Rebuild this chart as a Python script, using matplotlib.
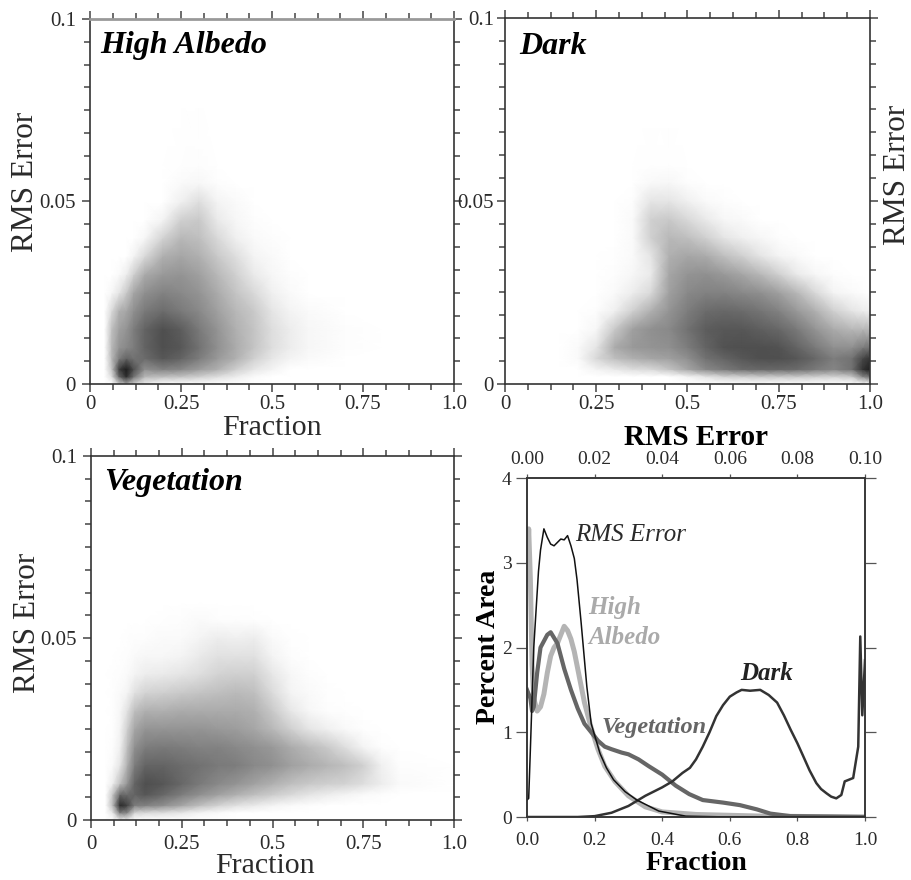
import matplotlib

matplotlib.use("Agg")
import matplotlib.pyplot as plt
from matplotlib.colors import LinearSegmentedColormap, PowerNorm
import numpy as np

W, H = 912, 880
SERIF = ["Liberation Serif", "DejaVu Serif"]

# darkness of the point cloud (0 white, 100 black)
rms_nodes = [0, .002, .004, .007, .01, .015, .02, .025, .03, .035, .04, .045, .05, .055, .06, .08]

albedo_x = [.04, .06, .08, .10, .12, .15, .20, .25, .30, .35, .40, .45, .50, .55, .60, .70, .80, 1.0]
albedo_rows = [
    [0, 0, 15, 30, 15, 5],
    [0, 10, 60, 88, 55, 25, 22, 20, 16, 10, 5, 1],
    [0, 20, 80, 97, 72, 42, 48, 45, 36, 28, 16, 7, 3],
    [0, 25, 50, 62, 55, 58, 68, 62, 50, 38, 28, 15, 7, 3, 1],
    [0, 25, 40, 45, 50, 62, 72, 68, 55, 42, 30, 20, 10, 5, 2, .5],
    [0, 22, 35, 40, 50, 62, 72, 65, 52, 40, 28, 20, 10, 5, 2, .5],
    [0, 12, 28, 32, 42, 52, 58, 52, 45, 35, 25, 18, 8, 3, 1],
    [0, 2, 8, 18, 32, 42, 48, 45, 40, 30, 20, 12, 4, 1],
    [0, 0, 1, 5, 15, 30, 38, 40, 35, 25, 15, 6, 2, .5],
    [0, 0, 0, 0, 3, 12, 28, 32, 28, 18, 10, 3, 1],
    [0, 0, 0, 0, 0, 2, 14, 25, 22, 12, 4, 1, .5],
    [0, 0, 0, 0, 0, 0, 3, 15, 18, 6, 2, .5],
    [0, 0, 0, 0, 0, 0, 0, 4, 10, 3, 1],
    [0, 0, 0, 0, 0, 0, 0, 1, 2, .5],
    [0, 0, 0, 0, 0, 0, 0, .3, .5],
    [],
]

dark_x = [0, .15, .2, .25, .3, .35, .4, .45, .5, .55, .6, .65, .7, .75, .8, .85, .9, .95, .98, 1.0]
dark_rows = [
    [],
    [0, 0, 0, 0, 0, 0, 0, 0, 3, 8, 14, 16, 18, 18, 18, 16, 14, 18, 45, 55],
    [0, 0, 0, 3, 6, 10, 12, 20, 32, 45, 52, 58, 60, 60, 58, 52, 46, 55, 85, 95],
    [0, 0, 1, 12, 22, 28, 32, 35, 42, 55, 62, 68, 72, 72, 68, 60, 50, 55, 75, 85],
    [0, 0, 1, 8, 30, 38, 40, 42, 50, 62, 70, 72, 72, 70, 62, 52, 42, 42, 50, 55],
    [0, 0, 0, 2, 18, 35, 42, 45, 55, 65, 68, 68, 64, 60, 52, 40, 30, 25, 25, 25],
    [0, 0, 0, .5, 4, 15, 28, 40, 50, 58, 60, 58, 54, 48, 38, 28, 15, 8, 5, 4],
    [0, 0, 0, 0, 1, 5, 12, 35, 45, 48, 48, 45, 42, 35, 25, 12, 3, 1, .5],
    [0, 0, 0, 0, .5, 2, 6, 32, 40, 42, 38, 32, 25, 15, 6, 2, .5],
    [0, 0, 0, 0, .3, 1, 8, 28, 32, 30, 22, 15, 8, 3, 1],
    [0, 0, 0, 0, 0, 1, 15, 25, 22, 15, 8, 4, 2, .5],
    [0, 0, 0, 0, 0, 1, 15, 18, 12, 6, 2, 1],
    [0, 0, 0, 0, 0, .5, 8, 8, 4, 1, .5],
    [0, 0, 0, 0, 0, 0, 1.5, 2, .5],
    [0, 0, 0, 0, 0, 0, .3, .3],
    [],
]

veg_x = [.04, .06, .08, .10, .12, .15, .2, .25, .3, .35, .4, .45, .5, .55, .6, .65, .7, .75, .8, .85, 1.0]
veg_rows = [
    [0, 0, 5, 5],
    [0, 8, 50, 45, 14, 12, 10, 7, 3, 1],
    [0, 25, 90, 78, 50, 48, 42, 32, 22, 14, 9, 6, 3, 1, .5],
    [0, 20, 60, 58, 62, 68, 60, 50, 42, 35, 28, 22, 17, 12, 8, 5, 3, 1, .5],
    [0, 5, 22, 40, 62, 72, 68, 60, 52, 45, 40, 34, 28, 22, 18, 16, 14, 10, 5, 1],
    [0, 1, 8, 28, 50, 62, 62, 58, 55, 52, 50, 45, 42, 35, 30, 26, 22, 15, 4, .5],
    [0, .5, 4, 22, 42, 50, 52, 50, 48, 48, 45, 42, 38, 30, 24, 18, 10, 3, .5],
    [0, .3, 3, 16, 32, 40, 40, 40, 40, 38, 36, 32, 25, 16, 8, 4, 1.5, .3],
    [0, .3, 2, 9, 22, 28, 28, 30, 30, 30, 30, 28, 18, 7, 2, .5, .2],
    [0, .2, 1, 3, 9, 14, 16, 18, 20, 22, 24, 22, 11, 3, 1, .3],
    [0, .2, .5, 1, 3, 5, 6, 8, 10, 14, 16, 15, 7, 2, .5],
    [0, 0, .3, .5, 1, 2, 2, 3, 6, 9, 9, 9, 3, .5],
    [0, 0, 0, .3, .5, .5, 1, 1, 3, 5, 4, 5, 1, .2],
    [0, 0, 0, 0, 0, 0, .3, .5, 1, .5, .5, .2],
    [],
    [],
]

# histogram curves, percent area
rms_err = [0, .0005, .001, .002, .0034, .004, .005, .006, .007, .008, .009, .010, .011, .012, .013,
           .014, .0148, .016, .0177, .019, .0216, .0235, .0256, .029, .0325, .039, .047, .06, .10]
rms_area = [.2, .22, .8, 2.0, 2.9, 3.15, 3.4, 3.3, 3.22, 3.2, 3.24, 3.28, 3.27, 3.32, 3.2,
            3.05, 2.8, 2.3, 1.54, 1.1, .75, .58, .44, .3, .2, .07, .01, 0, 0]

albedo_frac = [0, .005, .01, .015, .02, .03, .04, .05, .06, .07, .08, .09, .10, .11, .12, .13, .14, .15,
               .17, .19, .21, .23, .26, .3, .35, .4, .5, .6, .7, 1.0]
albedo_area = [2.8, 3.4, 2.8, 1.8, 1.4, 1.25, 1.3, 1.45, 1.7, 1.9, 2.0, 2.05, 2.15, 2.25, 2.2, 2.1, 1.95, 1.75,
               1.35, 1.05, .8, .6, .42, .25, .12, .06, .03, .02, .01, 0]

veg_frac = [0, .01, .015, .02, .03, .04, .06, .07, .09, .11, .13, .15, .17, .19, .21, .23, .25, .28, .3,
            .33, .36, .4, .44, .48, .52, .58, .63, .68, .72, .78, 1.0]
veg_area = [1.5, 1.4, 1.25, 1.3, 1.7, 2.0, 2.15, 2.18, 2.05, 1.75, 1.5, 1.28, 1.1, 1.0, .9, .83, .8, .76, .74,
            .68, .6, .5, .37, .27, .2, .17, .14, .09, .04, .01, 0]

dark_frac = [0, .15, .2, .25, .3, .35, .4, .43, .46, .482, .5, .52, .54, .56, .58, .6, .62, .635, .66, .69, .715,
             .74, .76, .78, .80, .817, .836, .856, .87, .886, .9, .915, .93, .94, .965, .98, .986, .992, 1.0]
dark_area = [0, 0, .01, .05, .13, .25, .35, .42, .52, .58, .68, .83, 1.0, 1.19, 1.32, 1.42, 1.47, 1.5, 1.49, 1.5, 1.44,
             1.35, 1.2, 1.03, .87, .72, .55, .4, .33, .28, .24, .22, .26, .42, .46, .83, 2.13, 1.2, 1.85]

frac_ticks = [0, .25, .5, .75, 1.0]
frac_labels = ["0", "0.25", "0.5", "0.75", "1.0"]
err_ticks = [0, .05, .1]
err_labels = ["0", "0.05", "0.1"]

INK = "#2a2a2a"
cloud_cmap = LinearSegmentedColormap.from_list("cloud", ["#ffffff", "#161616"])


def px_axes(fig, left, top, right, bottom):
    return fig.add_axes([left / W, 1 - bottom / H, (right - left) / W, (bottom - top) / H])


def px_text(fig, x, y, s, size, **kw):
    kw.setdefault("va", "center")
    kw.setdefault("color", INK)
    fig.text(x / W, 1 - y / H, s, fontsize=size, family=SERIF, **kw)


def density_panel(fig, box, xs, rows):
    ax = px_axes(fig, *box)
    values = np.array([r + [0] * (len(xs) - len(r)) for r in rows], dtype=float)
    ax.pcolormesh(xs, rms_nodes, values, cmap=cloud_cmap, norm=PowerNorm(0.85, vmin=0, vmax=100), shading="gouraud")
    ax.set_xlim(0, 1)
    ax.set_ylim(0, .1)
    ax.set_xticks(frac_ticks, frac_labels)
    ax.set_yticks(err_ticks, err_labels)
    ax.set_xticks(np.arange(0, 17) / 16, minor=True)
    ax.set_yticks(np.arange(0, 17) * .00625, minor=True)
    ax.tick_params(which="major", top=True, right=True, length=6, width=1.1, color="#444444",
                   labelsize=15, labelcolor=INK, pad=4)
    ax.tick_params(axis="x", which="major", pad=2)
    ax.tick_params(which="minor", top=True, right=True, length=4, width=1.1, color="#444444")
    for spine in ax.spines.values():
        spine.set_linewidth(1.2)
        spine.set_color("#333333")
    for label in ax.get_xticklabels() + ax.get_yticklabels():
        label.set_family(SERIF)
    return ax


def main():
    fig = plt.figure(figsize=(W / 100, H / 100), dpi=100)

    ax_a = density_panel(fig, (90, 19, 454, 384), albedo_x, albedo_rows)
    ax_a.spines["top"].set_color("#999999")
    ax_a.spines["top"].set_linewidth(2.0)
    ax_b = density_panel(fig, (505, 18, 870, 384), dark_x, dark_rows)
    ax_b.tick_params(axis="y", which="major", pad=2)
    ax_c = density_panel(fig, (91, 456, 454, 820), veg_x, veg_rows)
    ax_c.tick_params(axis="x", which="major", pad=5)

    px_text(fig, 100, 46, "High Albedo", 23, weight="bold", style="italic", color="black")
    px_text(fig, 519, 46, "Dark", 23, weight="bold", style="italic", color="black")
    px_text(fig, 104, 482, "Vegetation", 23, weight="bold", style="italic", color="black")

    px_text(fig, 272, 428, "Fraction", 21.5, ha="center")
    px_text(fig, 265, 866, "Fraction", 21.5, ha="center")
    px_text(fig, 26, 182, "RMS Error", 22.5, ha="center", rotation=90)
    px_text(fig, 898, 175, "RMS Error", 22.5, ha="center", rotation=90)
    px_text(fig, 28, 623, "RMS Error", 22.5, ha="center", rotation=90)

    ax_d = px_axes(fig, 527, 478, 865, 817)
    ax_d.plot(albedo_frac, albedo_area, color="#b4b4b4", linewidth=3.6)
    ax_d.plot(veg_frac, veg_area, color="#666666", linewidth=3.0)
    ax_d.plot(dark_frac, dark_area, color="#333333", linewidth=1.8)
    ax_d.set_xlim(0, 1)
    ax_d.set_ylim(0, 4)
    ax_d.set_xticks(np.arange(0, 1.01, .2), [f"{v:.1f}" for v in np.arange(0, 1.01, .2)])
    ax_d.set_yticks([0, 1, 2, 3, 4])
    ax_d.tick_params(right=True, length=8, width=0.9, color="#555555", labelsize=14, labelcolor=INK, pad=3)
    ax_d.tick_params(axis="x", length=3, pad=8)

    ax_top = ax_d.twiny()
    ax_top.plot(rms_err, rms_area, color="#111111", linewidth=1.1)
    ax_top.set_xlim(0, .1)
    ax_top.set_xticks(np.arange(0, .101, .02), [f"{v:.2f}" for v in np.arange(0, .101, .02)])
    ax_top.tick_params(length=3, width=0.9, color="#555555", labelsize=14, labelcolor=INK, pad=4)
    for ax in (ax_d, ax_top):
        for spine in ax.spines.values():
            spine.set_linewidth(1.1)
            spine.set_color("#333333")
        for label in ax.get_xticklabels() + ax.get_yticklabels():
            label.set_family(SERIF)

    px_text(fig, 696, 437, "RMS Error", 21, ha="center", weight="bold", color="black")
    px_text(fig, 696, 863, "Fraction", 20, ha="center", weight="bold", color="black")
    px_text(fig, 489, 647, "Percent Area", 20, ha="center", rotation=90, weight="bold", color="black")

    px_text(fig, 575, 535, "RMS Error", 18, style="italic")
    px_text(fig, 588, 607, "High", 18, style="italic", weight="bold", color="#aaaaaa")
    px_text(fig, 588, 637, "Albedo", 18, style="italic", weight="bold", color="#aaaaaa")
    px_text(fig, 740, 674, "Dark", 18, style="italic", weight="bold", color="#222222")
    px_text(fig, 602, 727, "Vegetation", 17.5, style="italic", weight="bold", color="#666666")

    fig.savefig("out.png", dpi=100)
    plt.close(fig)


if __name__ == "__main__":
    main()
